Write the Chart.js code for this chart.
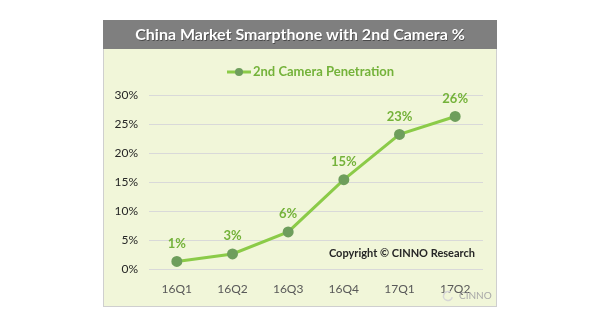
<!DOCTYPE html>
<html>
<head>
<meta charset="utf-8">
<script src="https://cdn.jsdelivr.net/npm/chart.js@4/dist/chart.umd.min.js"></script>
<style>
  html, body { margin: 0; padding: 0; background: #ffffff; }
  #wrap { width: 600px; height: 330px; }
</style>
</head>
<body>
<div id="wrap"><canvas id="c" width="600" height="330"></canvas></div>
<script>
// Quarterly share of smartphones with a second (dual) camera, China market
const quarters = ['16Q1', '16Q2', '16Q3', '16Q4', '17Q1', '17Q2'];
const penetration = [1.3, 2.6, 6.4, 15.4, 23.2, 26.3];
const yTicks = [0, 5, 10, 15, 20, 25, 30];
const seriesName = '2nd Camera Penetration';
const chartTitle = 'China Market Smarpthone with 2nd Camera %';
const copyright = 'Copyright \u00A9 CINNO Research';

const FONT = 'Lato, "Open Sans", "Liberation Sans", sans-serif';
const LINE_GREEN = '#8BCB48';
const DOT_GREEN = '#6E9E5C';
const LABEL_GREEN = '#74B23A';

// Frame, title bar, legend, value labels and footer text
const decor = {
  id: 'decor',
  beforeDraw(chart) {
    const ctx = chart.ctx;
    ctx.save();
    // panel
    ctx.fillStyle = '#F1F6D9';
    ctx.fillRect(103, 20, 394, 287);
    ctx.strokeStyle = '#CFCFCF';
    ctx.lineWidth = 1;
    ctx.strokeRect(103.5, 20.5, 393, 286);
    // title bar
    ctx.fillStyle = '#7F7F7F';
    ctx.fillRect(103, 20, 394, 29);
    ctx.font = 'bold 16px ' + FONT;
    ctx.textAlign = 'center';
    ctx.textBaseline = 'middle';
    ctx.fillStyle = '#4A4A4A';
    ctx.fillText(chartTitle, 300.7, 35.7);
    ctx.fillStyle = '#FFFFFF';
    ctx.fillText(chartTitle, 300, 35);
    // legend
    ctx.strokeStyle = LINE_GREEN;
    ctx.lineWidth = 3;
    ctx.beginPath();
    ctx.moveTo(227, 72);
    ctx.lineTo(251, 72);
    ctx.stroke();
    ctx.fillStyle = DOT_GREEN;
    ctx.beginPath();
    ctx.arc(239, 72, 4, 0, Math.PI * 2);
    ctx.fill();
    ctx.font = 'bold 13px ' + FONT;
    ctx.textAlign = 'left';
    ctx.fillStyle = LABEL_GREEN;
    ctx.fillText(seriesName, 253, 72);
    ctx.restore();
  },
  afterDatasetsDraw(chart) {
    const ctx = chart.ctx;
    const meta = chart.getDatasetMeta(0);
    ctx.save();
    ctx.font = 'bold 13px ' + FONT;
    ctx.textAlign = 'center';
    ctx.textBaseline = 'middle';
    ctx.fillStyle = LABEL_GREEN;
    meta.data.forEach((pt, i) => {
      ctx.fillText(Math.round(penetration[i]) + '%', pt.x, pt.y - 18);
    });
    // copyright note
    ctx.font = 'bold 11px ' + FONT;
    ctx.textAlign = 'right';
    ctx.fillStyle = '#262626';
    ctx.fillText(copyright, 475, 253);
    // corner mark
    ctx.font = '10px ' + FONT;
    ctx.fillStyle = '#A8A8A8';
    ctx.textAlign = 'left';
    ctx.fillText('CINNO', 459, 296);
    ctx.strokeStyle = '#D6D6D6';
    ctx.lineWidth = 1.5;
    ctx.beginPath();
    ctx.arc(448, 296, 4.5, 0.3, Math.PI * 1.7);
    ctx.stroke();
    ctx.restore();
  }
};

new Chart(document.getElementById('c'), {
  type: 'line',
  data: {
    labels: quarters,
    datasets: [{
      label: seriesName,
      data: penetration,
      borderColor: LINE_GREEN,
      backgroundColor: DOT_GREEN,
      pointBackgroundColor: DOT_GREEN,
      pointBorderColor: DOT_GREEN,
      borderWidth: 3,
      pointRadius: 4,
      pointHoverRadius: 4,
      tension: 0,
      fill: false
    }]
  },
  options: {
    responsive: false,
    animation: false,
    events: [],
    layout: { padding: { left: 103, right: 117, top: 95, bottom: 31 } },
    plugins: {
      legend: { display: false },
      title: { display: false },
      tooltip: { enabled: false }
    },
    scales: {
      x: {
        offset: true,
        grid: { display: false, drawTicks: false },
        border: { display: false },
        ticks: {
          color: '#595959',
          font: { family: FONT, size: 12 },
          padding: 13,
          maxRotation: 0
        },
        afterFit(scale) { scale.height = 30; }
      },
      y: {
        min: 0,
        max: 30,
        afterBuildTicks(scale) { scale.ticks = yTicks.map(v => ({ value: v })); },
        grid: { color: '#D9D9D9', lineWidth: 1, drawTicks: false },
        border: { display: false },
        ticks: {
          color: '#262626',
          font: { family: FONT, size: 12 },
          padding: 11,
          callback: v => v + '%'
        },
        afterFit(scale) { scale.width = 46; }
      }
    }
  },
  plugins: [decor]
});
</script>
</body>
</html>
